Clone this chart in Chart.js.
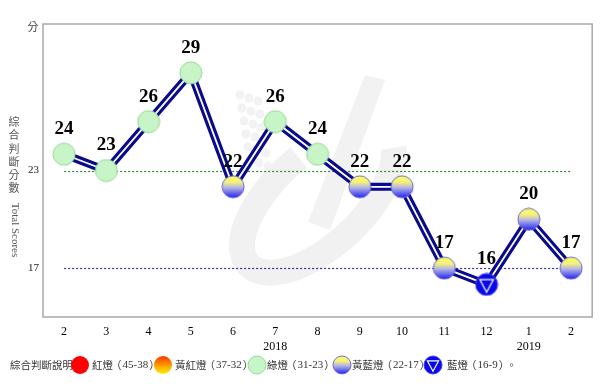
<!DOCTYPE html>
<html>
<head>
<meta charset="utf-8">
<script src="https://cdn.jsdelivr.net/npm/chart.js@4"></script>
<style>
  html, body { margin: 0; padding: 0; background: #fff; }
  #wrap { width: 605px; height: 386px; }
</style>
</head>
<body>
<div id="wrap"><canvas id="scorechart"></canvas></div>
<script>
'use strict';
const months = ['2', '3', '4', '5', '6', '7', '8', '9', '10', '11', '12', '1', '2'];
const scores = [24, 23, 26, 29, 22, 26, 24, 22, 22, 17, 16, 20, 17];
const yTicks = [17, 23];
const yearLabels = [{ at: 5, text: '2018' }, { at: 11, text: '2019' }];
const refLines = [{ value: 23, color: '#2e8b2e' }, { value: 17, color: '#2a2aa8' }];
const lightNames = ['紅燈', '黃紅燈', '綠燈', '黃藍燈', '藍燈'];
const lightRanges = ['45-38', '37-32', '31-23', '22-17', '16-9'];

const SERIF = '"Liberation Serif", "DejaVu Serif", serif';
const CJK = '"Noto Sans CJK TC", "Noto Sans CJK SC", sans-serif';

// marker images
const makeMarker = (kind, r) => {
    const c = document.createElement('canvas');
    const s = r * 2 + 2;
    c.width = s; c.height = s;
    const g = c.getContext('2d');
    const cx = s / 2, cy = s / 2;
    g.beginPath();
    g.arc(cx, cy, r, 0, Math.PI * 2);
    if (kind === 'green') {
        g.fillStyle = '#c8f5c8';
        g.fill();
        g.strokeStyle = '#94d894';
        g.lineWidth = 1;
        g.stroke();
    } else if (kind === 'yb') {
        const gr = g.createLinearGradient(0, cy - r, 0, cy + r);
        gr.addColorStop(0, '#ffff55');
        gr.addColorStop(0.3, '#f4f080');
        gr.addColorStop(0.55, '#b0b0e8');
        gr.addColorStop(1, '#2020f0');
        g.fillStyle = gr;
        g.fill();
        g.strokeStyle = '#6a6ad8';
        g.lineWidth = 1;
        g.stroke();
    } else if (kind === 'red') {
        g.fillStyle = '#ff0000';
        g.fill();
    } else if (kind === 'yr') {
        const gr = g.createLinearGradient(0, cy - r, 0, cy + r);
        gr.addColorStop(0, '#ff3300');
        gr.addColorStop(0.5, '#ff9900');
        gr.addColorStop(1, '#ffee00');
        g.fillStyle = gr;
        g.fill();
    } else {
        g.fillStyle = '#0a0ae8';
        g.fill();
        g.strokeStyle = '#4040ff';
        g.lineWidth = 1;
        g.stroke();
        g.beginPath();
        g.moveTo(cx - r * 0.62, cy - r * 0.45);
        g.lineTo(cx + r * 0.62, cy - r * 0.45);
        g.lineTo(cx, cy + r * 0.7);
        g.closePath();
        g.strokeStyle = '#ffffff';
        g.lineWidth = 1.2;
        g.stroke();
    }
    return c;
};

const kindOf = v => v >= 38 ? 'red' : v >= 32 ? 'yr' : v >= 23 ? 'green' : v >= 17 ? 'yb' : 'blue';
const markers = scores.map(v => makeMarker(kindOf(v), 11));

const extras = {
    id: 'extras',
    beforeDatasetsDraw(chart) {
        const { ctx, chartArea: a, scales: { x, y } } = chart;
        ctx.save();
        // faint watermark
        ctx.fillStyle = '#f2f2f2';
        ctx.strokeStyle = '#f1f1f1';
        ctx.lineWidth = 26;
        ctx.beginPath();
        ctx.ellipse(318, 200, 95, 45, -0.75, 0.3, Math.PI * 1.55);
        ctx.stroke();
        ctx.beginPath();
        ctx.moveTo(365, 75); ctx.lineTo(385, 80); ctx.lineTo(330, 230); ctx.lineTo(308, 222);
        ctx.closePath();
        ctx.fill();
        for (let r = 0; r < 6; r++) {
            for (let c = 0; c < 3; c++) {
                ctx.beginPath();
                ctx.arc(240 + c * 9 + r * 2, 95 + r * 13 + c * 3, 4.5, 0, Math.PI * 2);
                ctx.fill();
            }
        }
        ctx.strokeStyle = '#a8a8a8';
        ctx.lineWidth = 1.5;
        ctx.strokeRect(a.left, a.top, a.right - a.left, a.bottom - a.top);
        ctx.setLineDash([2, 2]);
        ctx.lineWidth = 1.2;
        refLines.forEach(l => {
            const py = Math.round(y.getPixelForValue(l.value)) + 0.5;
            ctx.strokeStyle = l.color;
            ctx.beginPath();
            ctx.moveTo(x.getPixelForValue(0), py);
            ctx.lineTo(x.getPixelForValue(months.length - 1), py);
            ctx.stroke();
        });
        ctx.restore();
    },
    afterDatasetsDraw(chart) {
        const { ctx, scales: { x, y } } = chart;
        ctx.save();
        ctx.fillStyle = '#000';
        ctx.font = 'bold 19px ' + SERIF;
        ctx.textAlign = 'center';
        ctx.textBaseline = 'middle';
        scores.forEach((v, i) => {
            ctx.fillText(String(v), x.getPixelForValue(i), y.getPixelForValue(v) - 25);
        });
        ctx.restore();
    },
    afterDraw(chart) {
        const { ctx, chartArea: a, scales: { x } } = chart;
        ctx.save();
        ctx.fillStyle = '#444';
        ctx.textAlign = 'center';
        ctx.textBaseline = 'middle';
        ctx.font = '11px ' + CJK;
        ctx.fillText('分', 33, a.top + 3);
        // vertical title
        ctx.fillStyle = '#555';
        ctx.font = '11px ' + CJK;
        '綜合判斷分數'.split('').forEach((ch, i) => ctx.fillText(ch, 14, 122 + i * 13.2));
        ctx.save();
        ctx.translate(15, 230);
        ctx.rotate(Math.PI / 2);
        ctx.font = '11px ' + SERIF;
        ctx.fillText('Total Scores', 0, 0);
        ctx.restore();
        // years
        ctx.fillStyle = '#000';
        ctx.font = '12px ' + SERIF;
        yearLabels.forEach(yl => ctx.fillText(yl.text, x.getPixelForValue(yl.at), 347));
        // legend
        const ly = 365;
        ctx.textAlign = 'left';
        ctx.fillStyle = '#333';
        const cjkFont = '10.5px ' + CJK;
        const numFont = '11px ' + SERIF;
        const put = (t, px, font) => {
            ctx.font = font;
            ctx.fillText(t, px, ly);
            return px + ctx.measureText(t).width;
        };
        put('綜合判斷說明：', 10, cjkFont);
        const kinds = ['red', 'yr', 'green', 'yb', 'blue'];
        const markX = [80, 163, 257, 342, 433];
        const textX = [92, 175, 267, 352, 447];
        kinds.forEach((k, i) => {
            const m = makeMarker(k, 9);
            ctx.drawImage(m, markX[i] - m.width / 2, ly - m.height / 2);
            let px = put(lightNames[i], textX[i], cjkFont);
            px = put('（', px - 2, cjkFont);
            px = put(lightRanges[i], px + 1, numFont);
            px = put('）', px + 1, cjkFont);
            put(i < kinds.length - 1 ? '，' : '。', px - 3, cjkFont);
        });
        ctx.restore();
    }
};

new Chart(document.querySelector('#scorechart'), {
    type: 'line',
    data: {
        labels: months,
        datasets: [{
            data: scores,
            borderColor: '#ffffff',
            borderWidth: 1.8,
            pointStyle: markers,
            pointRadius: 11,
            pointHoverRadius: 11,
            tension: 0
        }, {
            data: scores,
            borderColor: '#0a0a8c',
            borderWidth: 8,
            pointRadius: 0,
            tension: 0
        }]
    },
    options: {
        responsive: true,
        maintainAspectRatio: false,
        animation: false,
        events: [],
        layout: { padding: { top: 24, right: 11, left: 0, bottom: 0 } },
        plugins: { legend: { display: false }, tooltip: { enabled: false } },
        scales: {
            x: {
                offset: true,
                grid: { display: false },
                border: { display: false },
                ticks: { color: '#000', font: { family: SERIF, size: 12 }, padding: 0, maxRotation: 0, autoSkip: false },
                afterFit: s => { s.height = 69; }
            },
            y: {
                min: 14,
                max: 32,
                grid: { display: false },
                border: { display: false },
                afterBuildTicks: s => { s.ticks = yTicks.map(v => ({ value: v })); },
                ticks: { color: '#222', font: { family: SERIF, size: 11 }, padding: -4 },
                afterFit: s => { s.width = 43; }
            }
        }
    },
    plugins: [extras]
});
</script>
</body>
</html>
